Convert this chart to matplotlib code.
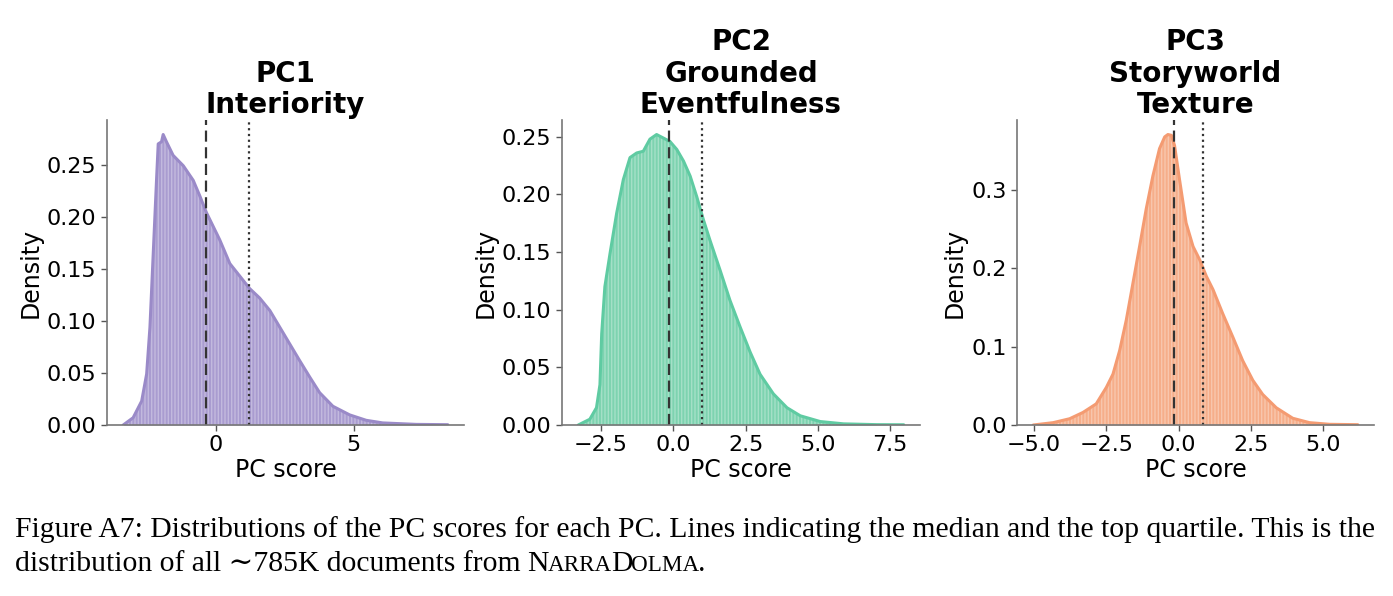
import numpy as np
import matplotlib
matplotlib.use("Agg")
import matplotlib.pyplot as plt

# 密度曲线 (PC score, density)
pc1_x = [-3.36, -3.0, -2.69, -2.51, -2.39, -2.27, -2.15, -2.09, -1.97, -1.91, -1.79, -1.55,
         -1.18, -0.82, -0.58, -0.34, -0.10, 0.14, 0.51, 0.87, 1.23, 1.59, 1.96, 2.32, 2.68,
         3.04, 3.41, 3.77, 4.25, 4.86, 5.46, 6.06, 7.27, 8.42]
pc1_y = [0.0, 0.007, 0.023, 0.049, 0.094, 0.165, 0.236, 0.270, 0.272, 0.279, 0.272, 0.259,
         0.249, 0.235, 0.220, 0.204, 0.191, 0.178, 0.155, 0.143, 0.131, 0.122, 0.110, 0.094, 0.078,
         0.062, 0.046, 0.031, 0.018, 0.0097, 0.0045, 0.002, 0.0006, 0.0003]

pc2_x = [-3.29, -2.89, -2.66, -2.54, -2.48, -2.37, -2.19, -1.96, -1.73, -1.50, -1.27, -1.04,
         -0.81, -0.58, -0.35, -0.12, 0.12, 0.35, 0.58, 0.81, 1.04, 1.27, 1.62, 1.96, 2.31,
         2.66, 3.00, 3.46, 3.93, 4.39, 5.08, 5.89, 7.04, 7.97]
pc2_y = [0.0, 0.005, 0.015, 0.035, 0.079, 0.120, 0.149, 0.184, 0.213, 0.232, 0.236, 0.2375,
         0.248, 0.252, 0.249, 0.246, 0.239, 0.229, 0.216, 0.198, 0.178, 0.160, 0.134, 0.108, 0.085,
         0.063, 0.044, 0.027, 0.015, 0.008, 0.003, 0.001, 0.0003, 0.0002]

pc3_x = [-5.03, -4.34, -3.77, -3.31, -2.85, -2.50, -2.27, -2.04, -1.81, -1.58, -1.35, -1.12,
         -0.89, -0.66, -0.48, -0.37, -0.25, -0.14, 0.03, 0.26, 0.50, 0.73, 0.96, 1.19, 1.53,
         1.88, 2.22, 2.57, 2.91, 3.38, 3.95, 4.53, 5.22, 6.20]
pc3_y = [0.0, 0.003, 0.008, 0.016, 0.027, 0.048, 0.065, 0.095, 0.134, 0.181, 0.228, 0.276,
         0.318, 0.353, 0.368, 0.371, 0.370, 0.357, 0.314, 0.258, 0.228, 0.211, 0.190, 0.173, 0.142,
         0.112, 0.082, 0.057, 0.039, 0.022, 0.0086, 0.003, 0.0009, 0.0004]

# 中位数和上四分位线
medians = [-0.36, -0.15, -0.15]
top_quartiles = [1.21, 0.99, 0.84]

titles = ["PC1\nInteriority", "PC2\nGrounded\nEventfulness", "PC3\nStoryworld\nTexture"]
fill_colors = ["#A99CD0", "#7DD3B0", "#F6AE8A"]
line_colors = ["#9A8AC8", "#5FCBA2", "#F49B72"]

W, H = 1393, 596
fig = plt.figure(figsize=(W / 100, H / 100), dpi=100)

# 坐标轴位置 (像素)
ax_boxes = [(107, 464), (562, 920), (1017, 1374)]
y_bottom, y_top = 425, 120

series = [(pc1_x, pc1_y), (pc2_x, pc2_y), (pc3_x, pc3_y)]

for i, ((xs, ys), (l, r)) in enumerate(zip(series, ax_boxes)):
    ax = fig.add_axes([l / W, 1 - y_bottom / H, (r - l) / W, (y_bottom - y_top) / H])
    xs = np.array(xs)
    ys = np.array(ys)
    ax.fill_between(xs, 0, ys, color=fill_colors[i], linewidth=0)
    # 模拟直方图条形的细白线
    ax.fill_between(xs, 0, ys, facecolor="none", edgecolor=(1, 1, 1, 0.3),
                    hatch="|||||", linewidth=0)
    ax.plot(xs, ys, color=line_colors[i], linewidth=2.2, solid_capstyle="round")
    ax.axvline(medians[i], color="#333333", linestyle=(0, (5, 2.5)), linewidth=1.6)
    ax.axvline(top_quartiles[i], color="#333333", linestyle=(0, (1, 1.6)), linewidth=1.6)

    span = xs.max() - xs.min()
    ax.set_xlim(xs.min() - 0.05 * span, xs.max() + 0.05 * span)
    ax.set_ylim(0, ys.max() * 1.05)

    ax.set_title(titles[i], fontsize=20, fontweight="bold", linespacing=1.15, pad=5)
    ax.set_xlabel("PC score", fontsize=17, labelpad=2)
    ax.set_ylabel("Density", fontsize=17, labelpad=3)
    ax.tick_params(labelsize=16, color="#555555", width=1.0, length=4)
    for side in ["top", "right"]:
        ax.spines[side].set_visible(False)
    for side in ["left", "bottom"]:
        ax.spines[side].set_color("#777777")
        ax.spines[side].set_linewidth(1.2)

    if i == 0:
        ax.set_yticks([0.0, 0.05, 0.10, 0.15, 0.20, 0.25])
        ax.set_yticklabels(["0.00", "0.05", "0.10", "0.15", "0.20", "0.25"])
        ax.set_xticks([0, 5])
    elif i == 1:
        ax.set_yticks([0.0, 0.05, 0.10, 0.15, 0.20, 0.25])
        ax.set_yticklabels(["0.00", "0.05", "0.10", "0.15", "0.20", "0.25"])
        ax.set_xticks([-2.5, 0.0, 2.5, 5.0, 7.5])
        ax.set_xticklabels(["\u22122.5", "0.0", "2.5", "5.0", "7.5"])
    else:
        ax.set_yticks([0.0, 0.1, 0.2, 0.3])
        ax.set_yticklabels(["0.0", "0.1", "0.2", "0.3"])
        ax.set_xticks([-5.0, -2.5, 0.0, 2.5, 5.0])
        ax.set_xticklabels(["\u22125.0", "\u22122.5", "0.0", "2.5", "5.0"])

# 图注 (衬线字体, NarraDolma 用小型大写)
serif = ["Liberation Serif", "DejaVu Serif"]
fs = 21.3
fig.text(15 / W, 1 - 537 / H,
         "Figure A7: Distributions of the PC scores for each PC. Lines indicating the median "
         "and the top quartile. This is the",
         family=serif, fontsize=fs, ha="left", va="baseline")

pieces = [("distribution of all \u223c785K documents from ", fs), ("N", fs), ("ARRA", fs * 0.78),
          ("D", fs), ("OLMA", fs * 0.78), (".", fs)]
renderer = fig.canvas.get_renderer()
x = 15
for txt, size in pieces:
    t = fig.text(x / W, 1 - 571 / H, txt, family=serif, fontsize=size, ha="left", va="baseline")
    bb = t.get_window_extent(renderer=renderer)
    x += bb.width - 1

fig.savefig("out.png", dpi=100)
